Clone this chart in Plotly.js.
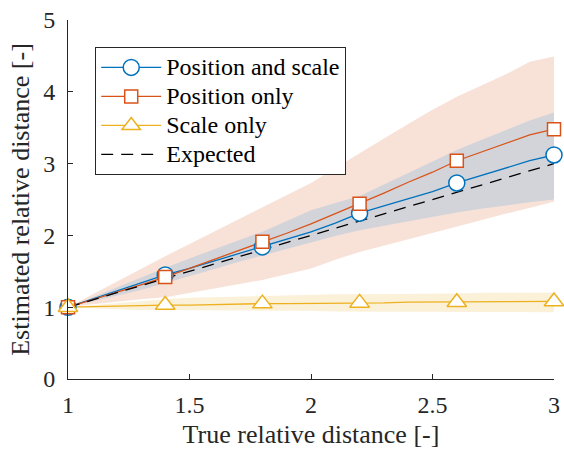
<!DOCTYPE html>
<html>
<head>
<meta charset="utf-8">
<script src="https://cdn.plot.ly/plotly-3.0.1.min.js"></script>
<style>html,body{margin:0;padding:0;background:#fff;}#chart{width:564px;height:451px;}</style>
</head>
<body>
<div id="chart"></div>
<script>
// True relative distance (0.1 steps)
var xTrue = [1.0,1.1,1.2,1.3,1.4,1.5,1.6,1.7,1.8,1.9,2.0,2.1,2.2,2.3,2.4,2.5,2.6,2.7,2.8,2.9,3.0];

// Mean estimates
var posScale = [1.00,1.11,1.22,1.33,1.45,1.54,1.64,1.74,1.84,1.95,2.05,2.17,2.31,2.41,2.51,2.61,2.73,2.83,2.93,3.04,3.12];
var posOnly  = [1.00,1.10,1.21,1.31,1.42,1.54,1.66,1.79,1.91,2.03,2.16,2.30,2.44,2.59,2.74,2.88,3.04,3.16,3.28,3.40,3.48];
var scaleOnly= [1.00,1.01,1.02,1.02,1.03,1.03,1.04,1.04,1.05,1.05,1.05,1.06,1.06,1.06,1.07,1.07,1.07,1.07,1.08,1.08,1.08];

// Spread bands
var posOnlyUpper  = [1.00,1.18,1.36,1.54,1.71,1.88,2.05,2.22,2.40,2.56,2.73,2.94,3.15,3.35,3.55,3.75,3.93,4.08,4.24,4.42,4.49];
var posOnlyLower  = [1.00,1.04,1.08,1.11,1.14,1.20,1.26,1.32,1.38,1.46,1.54,1.66,1.77,1.86,1.95,2.04,2.12,2.21,2.30,2.39,2.47];
var posScaleUpper = [1.00,1.14,1.28,1.42,1.55,1.68,1.81,1.93,2.05,2.20,2.35,2.45,2.55,2.71,2.87,3.03,3.19,3.33,3.47,3.60,3.71];
var posScaleLower = [1.00,1.08,1.16,1.24,1.33,1.43,1.53,1.63,1.73,1.82,1.90,1.99,2.07,2.13,2.20,2.26,2.32,2.37,2.42,2.46,2.50];
var scaleOnlyUpper= [1.00,1.03,1.06,1.09,1.11,1.13,1.14,1.15,1.16,1.17,1.17,1.18,1.18,1.18,1.19,1.19,1.19,1.20,1.20,1.20,1.20];
var scaleOnlyLower= [1.00,0.98,0.97,0.96,0.96,0.96,0.95,0.95,0.95,0.95,0.95,0.94,0.94,0.94,0.94,0.94,0.94,0.93,0.93,0.93,0.93];

// Expected line
var expX = [1, 3];
var expY = [1, 3];

// Marker every 4th sample
var markerIdx = [0,4,8,12,16,20];

var names = ['Position and scale','Position only','Scale only','Expected'];
var xTicks = [1,1.5,2,2.5,3];
var xTickText = ['1','1.5','2','2.5','3'];
var yTicks = [0,1,2,3,4,5];
var yTickText = ['0','1','2','3','4','5'];

var cBlue = '#0072BD', cRed = '#D95319', cYel = '#EDB120';

function band(upper, lower, color) {
  return {
    x: xTrue.concat(xTrue.slice().reverse()),
    y: upper.concat(lower.slice().reverse()),
    type: 'scatter', mode: 'lines', fill: 'toself', fillcolor: color,
    line: {width: 0, color: color}, hoverinfo: 'skip', showlegend: false
  };
}
function line(y, color) {
  return {x: xTrue, y: y, type: 'scatter', mode: 'lines', line: {color: color, width: 1.3}, showlegend: false};
}
function marks(y, color, symbol, size) {
  return {
    x: markerIdx.map(function(i){return xTrue[i];}),
    y: markerIdx.map(function(i){return y[i];}),
    type: 'scatter', mode: 'markers', cliponaxis: false, showlegend: false,
    marker: {symbol: symbol, size: size, color: '#fff', line: {color: color, width: 1.5}}
  };
}
function legName(s) { return '<span style="font-size:24px">' + s + '</span>'; }
function legendItem(name, color, symbol, size) {
  return {
    x: [null], y: [null], type: 'scatter', mode: 'lines+markers', name: legName(name),
    line: {color: color, width: 1.3},
    marker: {symbol: symbol, size: size, color: '#fff', line: {color: color, width: 1.5}}
  };
}

var data = [
  band(posOnlyUpper, posOnlyLower, '#f8e2d8'),
  band(posScaleUpper, posScaleLower, '#d3d4da'),
  band(scaleOnlyUpper, scaleOnlyLower, '#fbf0d8'),
  line(posScale, cBlue), line(posOnly, cRed), line(scaleOnly, cYel),
  {x: expX, y: expY, type: 'scatter', mode: 'lines', showlegend: false,
   line: {color: '#000', width: 1.3, dash: '12px,8px'}},
  marks(posScale, cBlue, 'circle', 16),
  marks(posOnly, cRed, 'square', 13),
  marks(scaleOnly, cYel, 'triangle-up', 17),
  legendItem(names[0], cBlue, 'circle', 16),
  legendItem(names[1], cRed, 'square', 13),
  legendItem(names[2], cYel, 'triangle-up', 17),
  {x: [null], y: [null], type: 'scatter', mode: 'lines', name: legName(names[3]),
   line: {color: '#000', width: 1.3, dash: '12px,8px'}}
];

var font = 'Liberation Serif';
var layout = {
  width: 564, height: 451,
  margin: {l: 68, r: 10, t: 20, b: 72},
  paper_bgcolor: '#fff', plot_bgcolor: '#fff',
  font: {family: font, size: 24, color: '#262626'},
  showlegend: true,
  xaxis: {
    range: [1, 3], tickvals: xTicks, ticktext: xTickText,
    ticks: 'inside', ticklen: 5, tickcolor: '#262626', tickwidth: 1,
    showline: true, linecolor: '#262626', linewidth: 1,
    showgrid: false, zeroline: false, ticklabelstandoff: 4,
    tickfont: {family: font, size: 24, color: '#262626'},
    title: {text: 'True relative distance [-]', font: {family: font, size: 26, color: '#262626'}, standoff: 8}
  },
  yaxis: {
    range: [0, 5], tickvals: yTicks, ticktext: yTickText,
    ticks: 'inside', ticklen: 5, tickcolor: '#262626', tickwidth: 1,
    showline: true, linecolor: '#262626', linewidth: 1,
    showgrid: false, zeroline: false, ticklabelstandoff: 7,
    tickfont: {family: font, size: 24, color: '#262626'},
    title: {text: 'Estimated relative distance [-]', font: {family: font, size: 26, color: '#262626'}, standoff: 6}
  },
  legend: {
    x: 0.056, y: 0.925, xanchor: 'left', yanchor: 'top',
    bgcolor: '#fff', bordercolor: '#262626', borderwidth: 1,
    font: {family: font, size: 20, color: '#000'},
    itemwidth: 60, tracegroupgap: 0
  }
};

Plotly.newPlot('chart', data, layout, {displayModeBar: false, staticPlot: true});
</script>
</body>
</html>
